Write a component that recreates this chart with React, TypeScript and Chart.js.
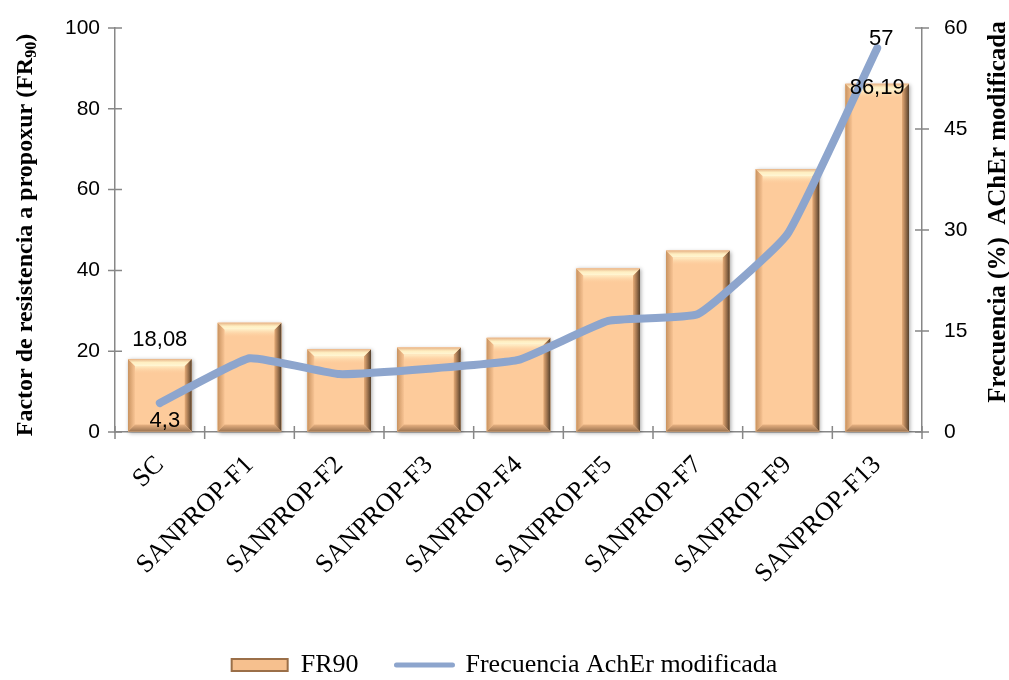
import React, { useEffect, useRef } from 'react';
import { Chart, registerables } from 'chart.js';

Chart.register(...registerables);

const categories = ['SC', 'SANPROP-F1', 'SANPROP-F2', 'SANPROP-F3', 'SANPROP-F4', 'SANPROP-F5', 'SANPROP-F7', 'SANPROP-F9', 'SANPROP-F13'];
const fr90Values = [18.08, 27.05, 20.5, 20.9, 23.3, 40.5, 44.9, 65.1, 86.19];
const frecuenciaValues = [4.3, 10.95, 8.6, 9.4, 10.7, 16.5, 17.5, 29.4, 57];
const fr90Labels = ['18,08', '', '', '', '', '', '', '', '86,19'];
const frecuenciaLabels = ['4,3', '', '', '', '', '', '', '', '57'];
const leftTicks = [0, 20, 40, 60, 80, 100];
const rightTicks = [0, 15, 30, 45, 60];
const seriesNames = ['FR90', 'Frecuencia AchEr modificada'];
const leftTitleParts = ['Factor de resistencia a propoxur (FR', '90', ')'];
const rightTitle = 'Frecuencia (%)  AChEr modificada';

const AXIS_COLOR = '#878787';
const BAR_COLOR = '#FDCB9B';
const LINE_COLOR = '#8DA5CD';
const SERIF = '"Liberation Serif", "Times New Roman", serif';
const SANS = '"Liberation Sans", Arial, sans-serif';

const bevelPlugin = {
  id: 'bevel',
  beforeDatasetDraw(chart: any, args: any) {
    if (args.index !== 0) return;
    const ctx = chart.ctx;
    const meta = chart.getDatasetMeta(0);
    ctx.save();
    meta.data.forEach((el: any) => {
      const { x, y, base, width } = el.getProps(['x', 'y', 'base', 'width'], true);
      ctx.shadowColor = 'rgba(0,0,0,0.35)';
      ctx.shadowBlur = 4;
      ctx.shadowOffsetX = 1;
      ctx.shadowOffsetY = 1;
      ctx.fillStyle = BAR_COLOR;
      ctx.fillRect(x - width / 2, y, width, base - y);
    });
    ctx.restore();
  },
  afterDatasetDraw(chart: any, args: any) {
    if (args.index !== 0) return;
    const ctx = chart.ctx;
    const meta = chart.getDatasetMeta(0);
    ctx.save();
    const poly = (pts: number[][], fill: any) => {
      ctx.beginPath();
      ctx.moveTo(pts[0][0], pts[0][1]);
      for (let i = 1; i < pts.length; i++) ctx.lineTo(pts[i][0], pts[i][1]);
      ctx.closePath();
      ctx.fillStyle = fill;
      ctx.fill();
    };
    meta.data.forEach((el: any) => {
      const { x, y, base, width } = el.getProps(['x', 'y', 'base', 'width'], true);
      const b = 7;
      const l = x - width / 2;
      const r = x + width / 2;
      const t = y;
      const btm = base;
      let g = ctx.createLinearGradient(l, 0, l + b, 0);
      g.addColorStop(0, '#C99360');
      g.addColorStop(1, '#F8C494');
      poly([[l, t], [l + b, t + b], [l + b, btm - b], [l, btm]], g);
      g = ctx.createLinearGradient(r - b, 0, r, 0);
      g.addColorStop(0, '#E6AC78');
      g.addColorStop(0.5, '#A27650');
      g.addColorStop(1, '#54402C');
      poly([[r, t], [r, btm], [r - b, btm - b], [r - b, t + b]], g);
      g = ctx.createLinearGradient(0, btm - b, 0, btm);
      g.addColorStop(0, '#E8B282');
      g.addColorStop(1, '#9B7350');
      poly([[l, btm], [r, btm], [r - b, btm - b], [l + b, btm - b]], g);
      g = ctx.createLinearGradient(0, t, 0, t + b);
      g.addColorStop(0, '#E7B386');
      g.addColorStop(0.5, '#FFEFC2');
      g.addColorStop(1, '#FFF6D4');
      poly([[l, t], [r, t], [r - b, t + b], [l + b, t + b]], g);
      g = ctx.createLinearGradient(0, t + b, 0, t + b + 8);
      g.addColorStop(0, 'rgba(255,240,200,0.9)');
      g.addColorStop(1, 'rgba(253,203,155,0)');
      ctx.fillStyle = g;
      ctx.fillRect(l + b, t + b, width - 2 * b, 8);
    });
    ctx.restore();
  },
};

const tickMarksPlugin = {
  id: 'tickMarks',
  afterDraw(chart: any) {
    const { ctx, chartArea: ca, scales } = chart;
    ctx.save();
    ctx.strokeStyle = AXIS_COLOR;
    ctx.lineWidth = 1.5;
    ctx.beginPath();
    const n = categories.length;
    for (let i = 0; i <= n; i++) {
      const px = ca.left + ((ca.right - ca.left) * i) / n;
      ctx.moveTo(px, ca.bottom - 6);
      ctx.lineTo(px, ca.bottom + 7);
    }
    scales.y.ticks.forEach((t: any) => {
      const py = scales.y.getPixelForValue(t.value);
      ctx.moveTo(ca.left - 7, py);
      ctx.lineTo(ca.left + 7, py);
    });
    scales.y1.ticks.forEach((t: any) => {
      const py = scales.y1.getPixelForValue(t.value);
      ctx.moveTo(ca.right - 7, py);
      ctx.lineTo(ca.right + 7, py);
    });
    ctx.stroke();
    ctx.restore();
  },
};

const valueLabelsPlugin = {
  id: 'valueLabels',
  afterDatasetsDraw(chart: any) {
    const ctx = chart.ctx;
    ctx.save();
    ctx.font = `22px ${SANS}`;
    ctx.fillStyle = '#000';
    ctx.textAlign = 'center';
    ctx.textBaseline = 'middle';
    chart.getDatasetMeta(0).data.forEach((el: any, i: number) => {
      const txt = fr90Labels[i];
      if (!txt) return;
      const y = Math.max(el.y - 19, chart.chartArea.top + 60);
      ctx.fillText(txt, el.x, y);
    });
    chart.getDatasetMeta(1).data.forEach((el: any, i: number) => {
      const txt = frecuenciaLabels[i];
      if (!txt) return;
      const below = i === 0;
      ctx.fillText(txt, el.x + (below ? 5 : 4), below ? el.y + 18 : el.y - 9);
    });
    ctx.restore();
  },
};

const axisTitlesPlugin = {
  id: 'axisTitles',
  afterDraw(chart: any) {
    const ctx = chart.ctx;
    const ca = chart.chartArea;
    ctx.save();
    ctx.fillStyle = '#000';
    const mainFont = `bold 24px ${SERIF}`;
    const subFont = `bold 16px ${SERIF}`;
    ctx.font = mainFont;
    const w1 = ctx.measureText(leftTitleParts[0]).width;
    const w3 = ctx.measureText(leftTitleParts[2]).width;
    ctx.font = subFont;
    const w2 = ctx.measureText(leftTitleParts[1]).width;
    ctx.translate(24, (ca.top + ca.bottom) / 2 + 5);
    ctx.rotate(-Math.PI / 2);
    ctx.textAlign = 'left';
    ctx.textBaseline = 'alphabetic';
    let cx = -(w1 + w2 + w3) / 2;
    ctx.font = mainFont;
    ctx.fillText(leftTitleParts[0], cx, 8);
    cx += w1;
    ctx.font = subFont;
    ctx.fillText(leftTitleParts[1], cx, 12);
    cx += w2;
    ctx.font = mainFont;
    ctx.fillText(leftTitleParts[2], cx, 8);
    ctx.restore();

    ctx.save();
    ctx.fillStyle = '#000';
    ctx.font = `bold 25px ${SERIF}`;
    ctx.translate(999, (ca.top + ca.bottom) / 2 - 18);
    ctx.rotate(-Math.PI / 2);
    ctx.textAlign = 'center';
    ctx.textBaseline = 'middle';
    ctx.fillText(rightTitle, 0, 0);
    ctx.restore();
  },
};

export default function App() {
  const canvasRef = useRef<HTMLCanvasElement | null>(null);

  useEffect(() => {
    const canvas = canvasRef.current;
    if (!canvas) return;
    const chart = new Chart(canvas, {
      type: 'bar',
      data: {
        labels: categories,
        datasets: [
          {
            type: 'bar',
            label: seriesNames[0],
            data: fr90Values,
            yAxisID: 'y',
            backgroundColor: BAR_COLOR,
            borderWidth: 0,
            order: 1,
            barPercentage: 0.71,
            categoryPercentage: 1,
          } as any,
          {
            type: 'line',
            label: seriesNames[1],
            data: frecuenciaValues,
            yAxisID: 'y1',
            borderColor: LINE_COLOR,
            borderWidth: 8,
            pointRadius: 0,
            tension: 0.12,
            borderCapStyle: 'round',
            borderJoinStyle: 'round',
            fill: false,
            order: 0,
          } as any,
        ],
      },
      options: {
        responsive: false,
        devicePixelRatio: 1,
        animation: false,
        events: [],
        layout: { padding: { top: 28, right: 0, bottom: -8, left: 0 } },
        plugins: {
          tooltip: { enabled: false },
          legend: {
            position: 'bottom',
            labels: {
              usePointStyle: true,
              pointStyleWidth: 56,
              boxHeight: 12,
              padding: 38,
              color: '#000',
              font: { family: SERIF, size: 26 },
              generateLabels: () => [
                {
                  text: seriesNames[0],
                  fillStyle: '#F6C08E',
                  strokeStyle: '#9B6F48',
                  lineWidth: 2,
                  pointStyle: 'rect',
                  datasetIndex: 0,
                  hidden: false,
                  fontColor: '#000',
                } as any,
                {
                  text: seriesNames[1],
                  fillStyle: LINE_COLOR,
                  strokeStyle: LINE_COLOR,
                  lineWidth: 5,
                  lineCap: 'round',
                  pointStyle: 'line',
                  datasetIndex: 1,
                  hidden: false,
                  fontColor: '#000',
                } as any,
              ],
            },
          },
        },
        scales: {
          x: {
            offset: true,
            grid: { display: true, drawOnChartArea: false, drawTicks: false, offset: true },
            border: { display: true, color: AXIS_COLOR, width: 1.5 },
            ticks: {
              minRotation: 45,
              maxRotation: 45,
              autoSkip: false,
              padding: 18,
              color: '#000',
              font: { family: SERIF, size: 26 },
            },
            afterFit: (s: any) => {
              s.height = 182;
              s.paddingTop = 0;
              s.paddingBottom = 0;
            },
          },
          y: {
            position: 'left',
            min: leftTicks[0],
            max: leftTicks[leftTicks.length - 1],
            grid: { drawOnChartArea: false, drawTicks: false },
            border: { display: true, color: AXIS_COLOR, width: 1.5 },
            ticks: {
              stepSize: leftTicks[1] - leftTicks[0],
              padding: 15,
              color: '#000',
              font: { family: SANS, size: 21 },
            },
            afterFit: (s: any) => {
              s.width = 115;
              s.paddingTop = 0;
              s.paddingBottom = 0;
            },
          },
          y1: {
            position: 'right',
            min: rightTicks[0],
            max: rightTicks[rightTicks.length - 1],
            grid: { drawOnChartArea: false, drawTicks: false },
            border: { display: true, color: AXIS_COLOR, width: 1.5 },
            ticks: {
              stepSize: rightTicks[1] - rightTicks[0],
              padding: 22,
              color: '#000',
              font: { family: SANS, size: 21 },
            },
            afterFit: (s: any) => {
              s.width = 87;
              s.paddingTop = 0;
              s.paddingBottom = 0;
            },
          },
        },
      },
      plugins: [bevelPlugin, tickMarksPlugin, valueLabelsPlugin, axisTitlesPlugin],
    } as any);
    return () => chart.destroy();
  }, []);

  return (
    <div style={{ position: 'fixed', left: 0, top: 0, width: 1009, height: 680, background: '#fff' }}>
      <canvas ref={canvasRef} width={1009} height={680} style={{ display: 'block', width: 1009, height: 680 }} />
    </div>
  );
}
